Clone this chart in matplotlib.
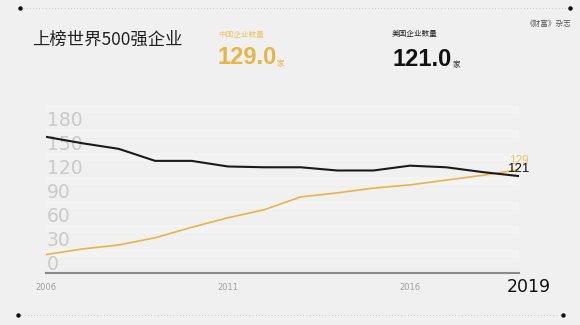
import matplotlib
matplotlib.use("Agg")
import matplotlib.pyplot as plt
import matplotlib.transforms as mtransforms

plt.rcParams['font.family'] = ['Noto Sans CJK SC', 'DejaVu Sans']

years = list(range(2006, 2020))
us_counts = [170, 162, 155, 140, 140, 133, 132, 132, 128, 128, 134, 132, 126, 121]
china_counts = [23, 30, 35, 44, 57, 69, 79, 95, 100, 106, 110, 116, 122, 129]
y_ticks = [0, 30, 60, 90, 120, 150, 180]
x_ticks = [2006, 2011, 2016]

W, H = 580, 325
BG = '#f0f0f0'
YELLOW = '#e6b548'
YELLOW_LIGHT = '#ecc66a'
NARROW = ['Liberation Sans', 'DejaVu Sans']

fig = plt.figure(figsize=(W / 100, H / 100), dpi=100, facecolor=BG)

def fx(px):
    return px / W

def fy(py):
    return 1 - py / H

# axes: x 46..519 px, zero at y=273 px, top at 100 px
ax = fig.add_axes([fx(46), fy(273), fx(519) - fx(46), fy(100) - fy(273)])
ax.set_facecolor('none')
ax.set_xlim(2006, 2019)
ax.set_ylim(0, 216)

# faint white bands
for v in y_ticks:
    ax.axhspan(v + 20, v + 30, color='white', alpha=0.22, lw=0, zorder=0)

ax.plot(years, us_counts, color='#1a1a1a', lw=1.5, solid_joinstyle='round', zorder=3)
ax.plot(years, china_counts, color=YELLOW, lw=1.2, solid_joinstyle='round', zorder=2)

for s in ['top', 'right', 'left']:
    ax.spines[s].set_visible(False)
ax.spines['bottom'].set_color('#8a8a8a')
ax.spines['bottom'].set_linewidth(1.5)
ax.set_yticks([])
ax.set_xticks(x_ticks)
ax.set_xticklabels([str(t) for t in x_ticks], fontsize=6, color='#a0a0a0',
                   family='DejaVu Sans')
ax.tick_params(axis='x', length=0, pad=7)

off = mtransforms.offset_copy(ax.transData, fig=fig, x=1, y=3, units='dots')
for v in y_ticks:
    ax.text(2006, v, str(v), transform=off, ha='left', va='baseline',
            fontsize=13.5, color='#cacaca', family='DejaVu Sans', zorder=1)

# end labels
off_c = mtransforms.offset_copy(ax.transData, fig=fig, x=0, y=6, units='dots')
off_u = mtransforms.offset_copy(ax.transData, fig=fig, x=0, y=4, units='dots')
ax.text(2019, china_counts[-1], str(china_counts[-1]), transform=off_c, ha='center',
        va='baseline', fontsize=8.5, color=YELLOW_LIGHT, family=NARROW, zorder=4)
ax.text(2019, us_counts[-1], str(us_counts[-1]), transform=off_u, ha='center',
        va='baseline', fontsize=9.5, color='#111111', family=NARROW, zorder=5,
        bbox=dict(boxstyle='square,pad=0.05', fc='none', ec='none'))

# year label
fig.text(fx(529), fy(287), '2019', ha='center', va='center', fontsize=12.5,
         color='#111111', family='DejaVu Sans')

# title and stats
fig.text(fx(32), fy(40), '上榜世界500强企业', ha='left', va='center', fontsize=12.5,
         color='#222222')
fig.text(fx(218), fy(35), '中国企业数量', ha='left', va='center', fontsize=5.5,
         color=YELLOW_LIGHT)
fig.text(fx(217), fy(58), '129.0', ha='left', va='center', fontsize=17,
         fontweight='bold', color=YELLOW, family=NARROW)
fig.text(fx(277), fy(64), '家', ha='left', va='center', fontsize=5.5, color=YELLOW)
fig.text(fx(392), fy(34), '美国企业数量', ha='left', va='center', fontsize=5.5,
         color='#222222')
fig.text(fx(392), fy(60), '121.0', ha='left', va='center', fontsize=17,
         fontweight='bold', color='#111111', family=NARROW)
fig.text(fx(453), fy(65), '家', ha='left', va='center', fontsize=5.5, color='#222222')
fig.text(fx(572), fy(24), '《财富》杂志', ha='right', va='center', fontsize=5.5,
         color='#555555')

# dotted rules top and bottom
for (x0, x1, yy) in [(20, 570, 8), (18, 563, 315)]:
    fig.add_artist(plt.Line2D([fx(x0), fx(x1)], [fy(yy), fy(yy)], transform=fig.transFigure,
                              color='#9a9a9a', lw=0.6, linestyle=(0, (0.6, 3.2))))
    for xe in (x0, x1):
        fig.add_artist(plt.Line2D([fx(xe)], [fy(yy)], transform=fig.transFigure,
                                  marker='o', markersize=2.2, color='#111111', lw=0))

fig.savefig('out.png', dpi=100, facecolor=BG)
